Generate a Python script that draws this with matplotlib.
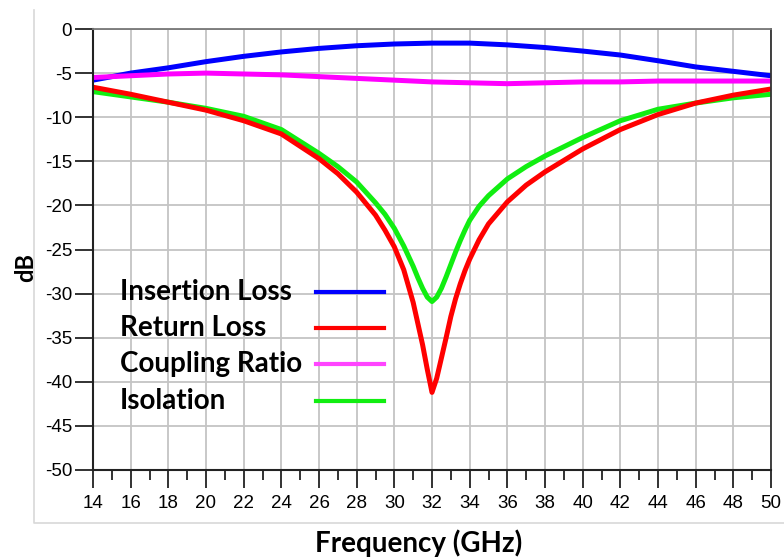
import numpy as np
import matplotlib.pyplot as plt
from matplotlib.lines import Line2D
from matplotlib.ticker import MultipleLocator

plt.rcParams['font.family'] = 'Liberation Sans'
plt.rcParams['font.size'] = 13.5
plt.rcParams['axes.unicode_minus'] = False

# frequency points (GHz), finer around the dip
freq = [14, 16, 18, 20, 22, 24, 26, 27, 28, 29, 29.5, 30, 30.5, 31, 31.25, 31.5, 31.75,
        32, 32.25, 32.5, 32.75, 33, 33.25, 33.5, 33.75, 34, 34.5, 35, 36, 37, 38,
        40, 42, 44, 46, 48, 50]
return_loss = [-6.6, -7.4, -8.3, -9.2, -10.4, -11.9, -14.7, -16.4, -18.5, -21.1, -22.8,
               -24.7, -27.3, -31.0, -33.4, -35.8, -38.6, -41.2, -39.6, -37.3, -35.0,
               -32.6, -30.6, -28.9, -27.4, -26.1, -23.9, -22.1, -19.6, -17.7, -16.2,
               -13.6, -11.4, -9.7, -8.4, -7.5, -6.8]
isolation = [-7.1, -7.7, -8.3, -9.0, -9.9, -11.4, -14.1, -15.6, -17.35, -19.7, -21.0,
             -22.6, -24.6, -26.9, -28.2, -29.4, -30.4, -30.9, -30.4, -29.4, -28.1,
             -26.7, -25.3, -24.0, -22.8, -21.7, -20.1, -18.9, -17.0, -15.6, -14.4,
             -12.3, -10.4, -9.1, -8.4, -7.8, -7.4]

freq_c = [14, 16, 18, 20, 22, 24, 26, 28, 30, 32, 34, 36, 38, 40, 42, 44, 46, 48, 50]
insertion_loss = [-5.8, -5.0, -4.4, -3.7, -3.1, -2.6, -2.2, -1.9, -1.7, -1.6, -1.6, -1.8,
                  -2.1, -2.5, -2.95, -3.6, -4.3, -4.8, -5.3]
coupling = [-5.5, -5.3, -5.1, -5.0, -5.1, -5.2, -5.4, -5.6, -5.8, -6.0, -6.1, -6.2,
            -6.1, -6.0, -6.0, -5.9, -5.9, -5.9, -5.9]

labels = ['Insertion Loss', 'Return Loss', 'Coupling Ratio', 'Isolation']
colors = ['#0000FF', '#FF0000', '#FF44FF', '#11EE11']

fig = plt.figure(figsize=(7.84, 5.6), dpi=100)
ax = fig.add_axes([93/784, 90/560, 678/784, 441/560])

ax.plot(freq_c, insertion_loss, color=colors[0], lw=3.6, solid_capstyle='butt')
ax.plot(freq_c, coupling, color='#FF00FF', lw=3.6, solid_capstyle='butt')
ax.plot(freq, isolation, color=colors[3], lw=3.6, solid_capstyle='butt')
ax.plot(freq, return_loss, color=colors[1], lw=3.6, solid_capstyle='butt')

ax.set_xlim(14, 50)
ax.set_ylim(-50, 0)
ax.xaxis.set_major_locator(MultipleLocator(2))
ax.xaxis.set_minor_locator(MultipleLocator(1))
ax.yaxis.set_major_locator(MultipleLocator(5))
ax.grid(True, which='major', color='#C4C4C4', lw=1.3)
ax.set_axisbelow(True)

ax.tick_params(axis='both', which='major', direction='out', length=13, width=1.3,
               color='#222222', labelsize=13.5)
ax.tick_params(axis='x', which='minor', direction='out', length=7, width=1.3,
               color='#222222')
ax.tick_params(axis='x', pad=5)
ax.tick_params(axis='y', pad=2)

for side in ['left', 'bottom']:
    ax.spines[side].set_color('#222222')
    ax.spines[side].set_linewidth(1.5)
ax.spines['top'].set_color('#777777')
ax.spines['right'].set_color('#333333')
ax.spines['top'].set_linewidth(1.3)
ax.spines['right'].set_linewidth(1.3)

ax.set_xlabel('Frequency (GHz)', fontfamily='Lato', fontweight='bold', fontsize=20)
ax.xaxis.set_label_coords(0.481, -0.135)
ax.set_ylabel('dB', fontfamily='Lato', fontweight='bold', fontsize=17)
ax.yaxis.set_label_coords(-0.083, 0.46)

# legend drawn as text + short lines
rows = [0.4036, 0.322, 0.240, 0.156]
for lab, c, yy in zip(labels, colors, rows):
    ax.text(0.0398, yy, lab, transform=ax.transAxes, fontfamily='Lato',
            fontweight='bold', fontsize=20, va='center', ha='left')
    ax.plot([0.329, 0.429], [yy, yy], transform=ax.transAxes, color=c, lw=3,
            clip_on=False)

# light frame around the chart area
fig.add_artist(Line2D([34/784, 34/784, 1.0], [1 - 10/560, 1 - 523/560, 1 - 523/560],
                      transform=fig.transFigure, color='#D8D8D8', lw=1.2))

fig.savefig('out.png', dpi=100)
